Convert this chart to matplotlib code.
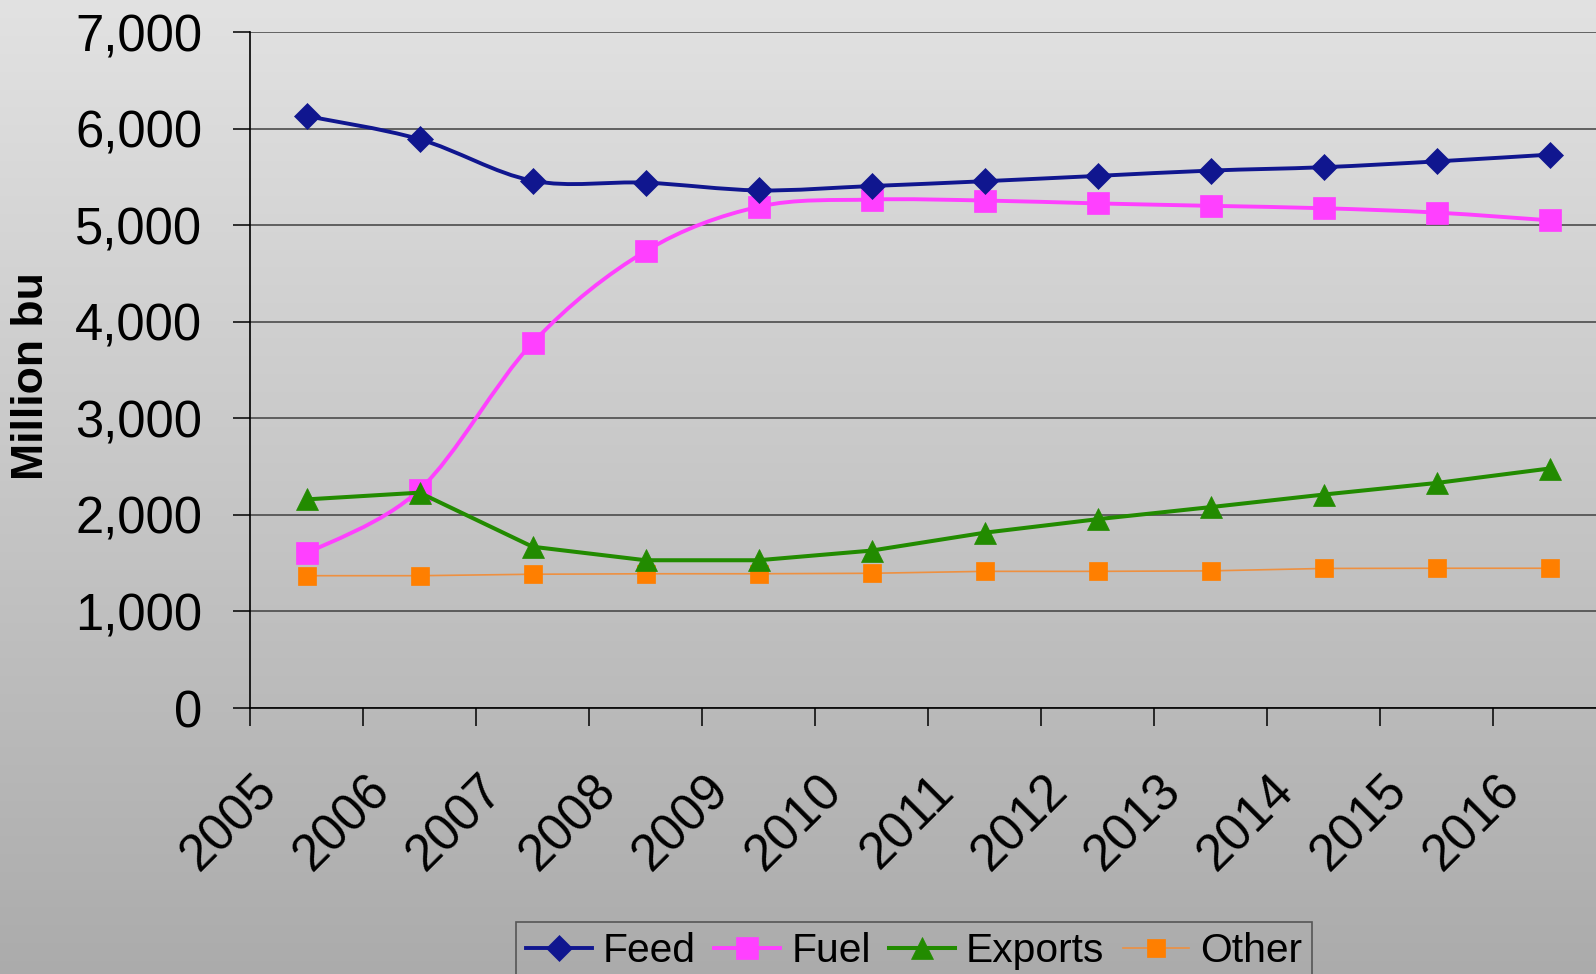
import numpy as np
import matplotlib
matplotlib.use("Agg")
import matplotlib.pyplot as plt
from matplotlib.path import Path
from matplotlib.patches import PathPatch
from matplotlib.lines import Line2D
from matplotlib.transforms import blended_transform_factory

plt.rcParams['font.family'] = ['Liberation Sans', 'DejaVu Sans']

# ---- data ----
years = ['2005', '2006', '2007', '2008', '2009', '2010', '2011', '2012',
         '2013', '2014', '2015', '2016']
feed = [6130, 5890, 5460, 5440, 5360, 5405, 5455, 5510, 5565, 5600, 5660, 5730]
fuel = [1600, 2260, 3780, 4730, 5190, 5265, 5255, 5225, 5200, 5175, 5130, 5050]
exports = [2160, 2230, 1670, 1530, 1530, 1630, 1815, 1955, 2080, 2210, 2330, 2480]
other = [1370, 1370, 1385, 1390, 1390, 1395, 1415, 1415, 1420, 1445, 1447, 1447]
yticks = [0, 1000, 2000, 3000, 4000, 5000, 6000, 7000]

W, H = 1596, 974
fig = plt.figure(figsize=(W / 100, H / 100), dpi=100)

# gradient background
bg = fig.add_axes([0, 0, 1, 1], zorder=-10)
grad = np.linspace(0.886, 0.672, 256).reshape(-1, 1)
bg.imshow(np.dstack([grad, grad, grad]), aspect='auto', extent=[0, 1, 0, 1],
          interpolation='bilinear')
bg.set_axis_off()

ax_left, ax_right = 250, 250 + 12 * 113
ax_top, ax_bot = 32, 708
ax = fig.add_axes([ax_left / W, 1 - ax_bot / H, (ax_right - ax_left) / W,
                   (ax_bot - ax_top) / H])
ax.patch.set_alpha(0)

x = np.arange(len(years))
ax.set_xlim(-0.5, len(years) - 0.5)
ax.set_ylim(0, 7000)


def smooth_path(xs, ys):
    pts = np.column_stack([xs, ys]).astype(float)
    n = len(pts)
    verts = [pts[0]]
    codes = [Path.MOVETO]
    for i in range(n - 1):
        p0 = pts[i - 1] if i > 0 else pts[i]
        p1 = pts[i]
        p2 = pts[i + 1]
        p3 = pts[i + 2] if i + 2 < n else pts[i + 1]
        c1 = p1 + (p2 - p0) / 6.0
        c2 = p2 - (p3 - p1) / 6.0
        verts += [c1, c2, p2]
        codes += [Path.CURVE4] * 3
    return Path(verts, codes)


series = [
    ('Feed', feed, '#10168F', '#10168F', 'D', 12.8, 2.8, 5, True),
    ('Fuel', fuel, '#FF40FF', '#FF40FF', 's', 16.5, 2.8, 4, True),
    ('Exports', exports, '#228B00', '#228B00', '^', 15.5, 2.9, 6, False),
    ('Other', other, '#EE9040', '#FF7F00', 's', 12.8, 1.2, 3, False),
]

handles = []
for name, vals, lc, mc, mk, ms, lw, z, smooth in series:
    if smooth:
        patch = PathPatch(smooth_path(x, vals), facecolor='none', edgecolor=lc,
                          lw=lw, joinstyle='round', capstyle='round', zorder=z)
        ax.add_patch(patch)
    else:
        ax.plot(x, vals, color=lc, lw=lw, solid_joinstyle='round', zorder=z)
    ax.plot(x, vals, linestyle='none', marker=mk, markersize=ms,
            markerfacecolor=mc, markeredgecolor=mc, markeredgewidth=0.5,
            zorder=z + 0.5)
    handles.append(Line2D([], [], color=lc, lw=lw, marker=mk, markersize=ms,
                          markerfacecolor=mc, markeredgecolor=mc,
                          markeredgewidth=0.5, label=name))

# grid & axes
ax.set_yticks(yticks)
ax.set_yticklabels([f'{v:,}' for v in yticks])
ax.yaxis.grid(True, color='#404040', lw=1.1)
ax.set_axisbelow(True)
for s in ['top', 'right']:
    ax.spines[s].set_visible(False)
for s in ['left', 'bottom']:
    ax.spines[s].set_color('black')
    ax.spines[s].set_linewidth(1.2)
ax.tick_params(axis='y', direction='out', length=12.5, width=1.1,
               labelsize=36.5, pad=22, colors='black')
ax.set_xticks(np.arange(len(years) + 1) - 0.5)
ax.set_xticklabels([])
ax.tick_params(axis='x', direction='out', length=13, width=1.1, colors='black')

trans = blended_transform_factory(ax.transData, ax.transAxes)
for i, yr in enumerate(years):
    ax.text(i - 0.5 + 0.168, -0.112, yr, transform=trans, rotation=45,
            ha='right', va='center', rotation_mode='anchor', fontsize=36.5,
            color='black', clip_on=False)

fig.text(32 / W, 1 - 376 / H, 'Million bu', rotation=90, fontsize=32,
         fontweight='bold', ha='center', va='center')

leg = ax.legend(handles=handles, loc='upper left',
                bbox_to_anchor=(516 / W, 1 - 922 / H),
                bbox_transform=fig.transFigure, ncol=4, fontsize=29.3,
                frameon=True, fancybox=False, borderaxespad=0, borderpad=0.25,
                handlelength=1.62, handletextpad=0.27, columnspacing=0.45)
leg.get_frame().set_facecolor('none')
leg.get_frame().set_edgecolor('#404040')
leg.get_frame().set_linewidth(1.2)

fig.savefig('out.png', dpi=100)
